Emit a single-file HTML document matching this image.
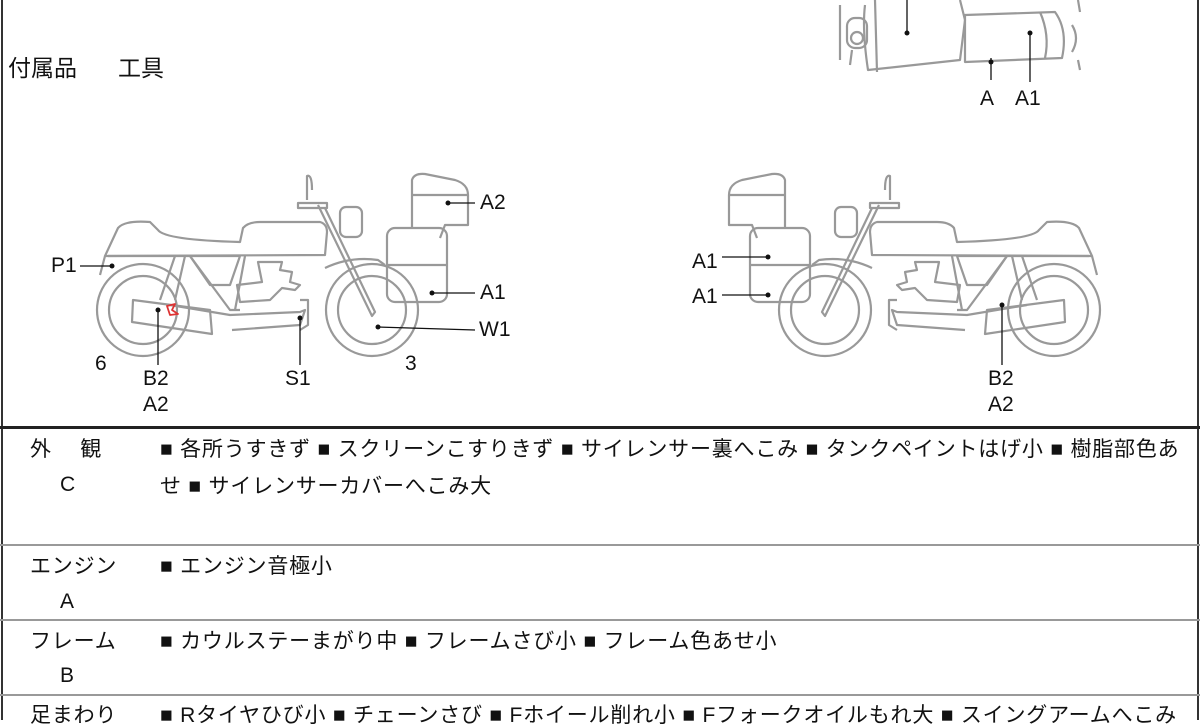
<!DOCTYPE html>
<html><head><meta charset="utf-8"><style>
html,body{margin:0;padding:0;background:#fff;}
body{width:1200px;height:720px;position:relative;overflow:hidden;font-family:"Liberation Sans","Noto Sans CJK JP",sans-serif;color:#111;}
.t{position:absolute;font-size:21px;line-height:24px;white-space:nowrap;letter-spacing:0.8px;}
.l{position:absolute;font-size:21px;line-height:24px;white-space:nowrap;}
.hl{position:absolute;left:0;width:1200px;background:#555;}
</style></head><body>
<div style="position:absolute;left:1px;top:0;width:2px;height:720px;background:#333"></div>
<div style="position:absolute;left:1197px;top:0;width:2px;height:720px;background:#333"></div>
<div class="hl" style="top:426px;height:3px;background:#222"></div>
<div class="hl" style="top:544px;height:2px;background:#999"></div>
<div class="hl" style="top:619px;height:2px;background:#999"></div>
<div class="hl" style="top:694px;height:2px;background:#999"></div>

<div class="l" style="left:8px;top:56px;font-size:23px">付属品</div>
<div class="l" style="left:118px;top:56px;font-size:23px">工具</div>

<svg width="1200" height="425" style="position:absolute;left:0;top:0" fill="none" stroke="#999" stroke-width="2.2" stroke-linejoin="round">
<defs>
<g id="bike">
 <circle cx="143" cy="310" r="46"/><circle cx="143" cy="310" r="34"/>
 <circle cx="372" cy="310" r="46"/><circle cx="372" cy="310" r="34"/>
 <path d="M105 256 L118 228 Q125 220 150 222 L158 230 Q165 240 240 242 L243 228 Q248 222 260 222 L320 222 Q327 224 327 232 L325 255 Z"/>
 <path d="M105 256 L100 275 M108 256 L240 256"/>
 <path d="M190 256 L210 285 L230 285 L240 256"/>
 <path d="M175 256 L160 300 M185 256 L175 300"/>
 <path d="M190 256 L230 310 L240 310 M245 256 L235 310"/>
 <path d="M258 262 L282 262 L280 270 L292 272 L290 282 L300 285 L295 290 L282 288 L270 300 L240 302 L237 285 L262 282 L258 262Z"/>
 <path d="M133 300 L210 310 L212 334 L132 322 Z"/>
 <path d="M170 305 L230 315 L300 312 L305 310 L300 325 L232 330"/>
 <path d="M300 300 L308 300 L308 325 L300 330"/>
 <path d="M325 208 L375 312 L372 316 L318 205"/>
 <path d="M298 203 L327 203 L327 208 L298 208 Z"/>
 <path d="M307 200 L307 176 Q312 174 312 190"/>
 <rect x="340" y="207" width="22" height="30" rx="6"/>
 <path d="M325 268 Q350 256 378 260 L385 265"/>
 <rect x="387" y="228" width="60" height="74" rx="8"/>
 <path d="M387 265 L447 265"/>
 <path d="M412 228 L412 180 Q414 173 425 174 L455 180 Q468 184 468 195 L468 225 L445 225 L440 238"/>
 <path d="M412 195 L468 195"/>
</g>
</defs>
<use href="#bike"/>
<use href="#bike" transform="translate(1197,0) scale(-1,1)"/>
<path d="M865 5 Q862 30 868 70 L960 60 L965 20 L960 0"/>
<path d="M965 15 L1055 12 Q1068 30 1062 58 L965 62 Z"/>
<path d="M1040 12 Q1050 35 1045 58"/>
<rect x="847" y="18" width="20" height="30" rx="8"/><circle cx="857" cy="38" r="6"/>
<path d="M840 5 L840 60 M852 50 L850 65 M875 0 L877 72"/>
<path d="M1072 25 Q1080 38 1072 52 M1078 0 L1080 12 M1078 60 L1080 70"/>
<g stroke="#111" stroke-width="1.3">
 <path d="M907 0 L907 33 M1030 33 L1030 82 M991 58 L991 80"/>
 <path d="M80 266 L112 266 M158 310 L158 365 M300 318 L300 365 M378 327 L475 330 M432 293 L475 293 M448 203 L475 203"/>
 <path d="M722 257 L768 257 M722 295 L768 295 M1002 305 L1002 365"/>
</g>
<g fill="#111" stroke="none">
 <circle cx="907" cy="33" r="2.5"/><circle cx="1030" cy="33" r="2.5"/><circle cx="991" cy="62" r="2.5"/>
 <circle cx="112" cy="266" r="2.5"/><circle cx="158" cy="310" r="2.5"/><circle cx="300" cy="318" r="2.5"/><circle cx="378" cy="327" r="2.5"/><circle cx="432" cy="293" r="2.5"/><circle cx="448" cy="203" r="2.5"/>
 <circle cx="768" cy="257" r="2.5"/><circle cx="768" cy="295" r="2.5"/><circle cx="1002" cy="305" r="2.5"/>
</g>
<path d="M167 306 L175 304 L172 310 L178 314 L170 315 Z" stroke="#d33" stroke-width="1.8"/>
</svg>

<div class="l" style="left:980px;top:87px">A</div>
<div class="l" style="left:1015px;top:87px">A1</div>
<div class="l" style="left:51px;top:254px">P1</div>
<div class="l" style="left:480px;top:191px">A2</div>
<div class="l" style="left:480px;top:281px">A1</div>
<div class="l" style="left:479px;top:318px">W1</div>
<div class="l" style="left:95px;top:352px">6</div>
<div class="l" style="left:143px;top:367px">B2</div>
<div class="l" style="left:143px;top:393px">A2</div>
<div class="l" style="left:285px;top:367px">S1</div>
<div class="l" style="left:405px;top:352px">3</div>
<div class="l" style="left:692px;top:250px">A1</div>
<div class="l" style="left:692px;top:285px">A1</div>
<div class="l" style="left:988px;top:367px">B2</div>
<div class="l" style="left:988px;top:393px">A2</div>

<div class="t" style="left:30px;top:438px">外　 観</div>
<div class="t" style="left:60px;top:473px">C</div>
<div class="t" style="left:160px;top:438px">■ 各所うすきず ■ スクリーンこすりきず ■ サイレンサー裏へこみ ■ タンクペイントはげ小 ■ 樹脂部色あ</div>
<div class="t" style="left:160px;top:475px">せ ■ サイレンサーカバーへこみ大</div>
<div class="t" style="left:30px;top:555px">エンジン</div>
<div class="t" style="left:60px;top:590px">A</div>
<div class="t" style="left:160px;top:555px">■ エンジン音極小</div>
<div class="t" style="left:30px;top:630px">フレーム</div>
<div class="t" style="left:60px;top:664px">B</div>
<div class="t" style="left:160px;top:630px">■ カウルステーまがり中 ■ フレームさび小 ■ フレーム色あせ小</div>
<div class="t" style="left:30px;top:704px">足まわり</div>
<div class="t" style="left:160px;top:704px">■ Rタイヤひび小 ■ チェーンさび ■ Fホイール削れ小 ■ Fフォークオイルもれ大 ■ スイングアームへこみ</div>
</body></html>
